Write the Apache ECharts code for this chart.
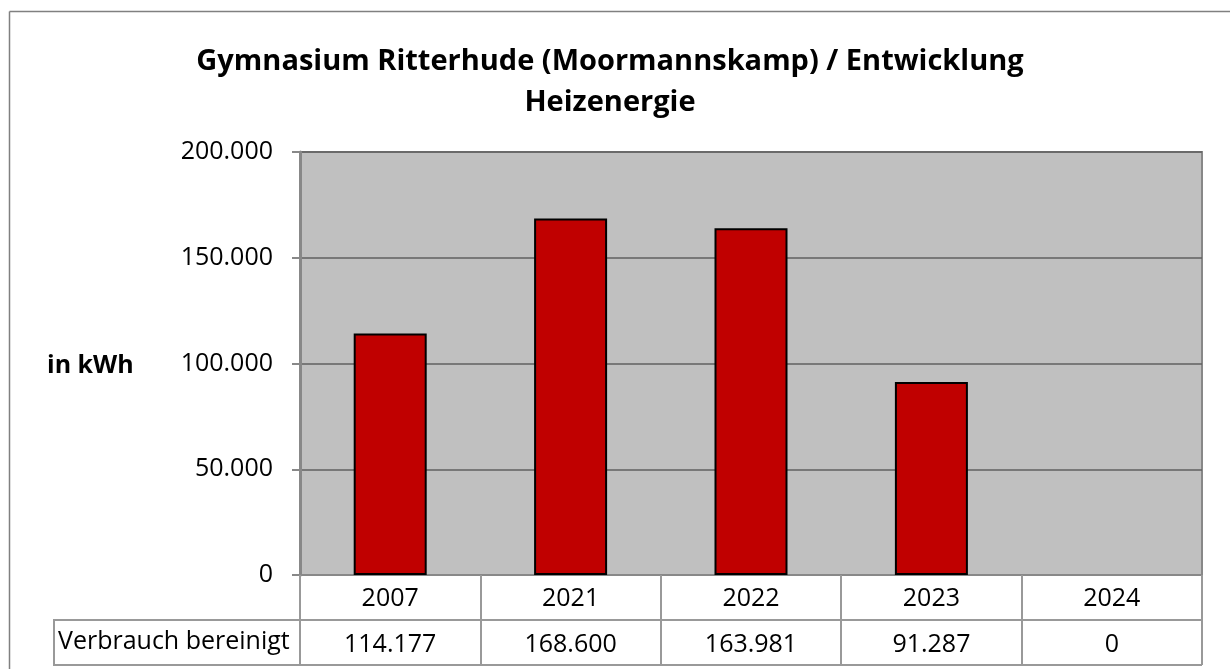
<!DOCTYPE html>
<html>
<head>
<meta charset="utf-8">
<script src="https://cdn.jsdelivr.net/npm/echarts@6/dist/echarts.min.js"></script>
<style>
  html, body { margin: 0; padding: 0; background: #fff; }
  #chart { width: 1230px; height: 669px; }
</style>
</head>
<body>
<div id="chart"></div>
<script>
const years = ["2007", "2021", "2022", "2023", "2024"];
const verbrauch = [114177, 168600, 163981, 91287, 0];
const rowLabel = "Verbrauch bereinigt";
const yTicks = [0, 50000, 100000, 150000, 200000];

const FONT = "'Open Sans', 'Noto Sans', sans-serif";
const FS = 25;

// 114177 -> "114.177"
const fmt = (v) => String(v).replace(/\B(?=(\d{3})+(?!\d))/g, ".");

let chartDom = document.getElementById("chart");
let myChart = echarts.init(chartDom);
let option;

// Excel draws nothing for a zero bar, so drop the border there
const barData = verbrauch.map((v) => (v === 0 ? { value: v, itemStyle: { borderWidth: 0 } } : v));

option = {
  animation: false,
  title: {
    text: "Gymnasium Ritterhude (Moormannskamp) / Entwicklung\nHeizenergie",
    left: 605,
    textAlign: "center",
    top: 36,
    textStyle: {
      fontFamily: FONT,
      fontSize: 29,
      fontWeight: "bold",
      color: "#000",
      lineHeight: 41,
    },
  },
  grid: {
    left: 300,
    top: 152,
    right: 28,
    bottom: 94,
    show: true,
    backgroundColor: "#c0c0c0",
    borderColor: "#888",
    borderWidth: 2,
  },
  xAxis: [
    {
      type: "category",
      data: years,
      position: "bottom",
      axisLine: { show: true, lineStyle: { color: "#888", width: 2 } },
      axisTick: { show: true, length: 45, interval: 0, lineStyle: { color: "#999", width: 2 } },
      axisLabel: { fontFamily: FONT, fontSize: FS, color: "#000", margin: 11, interval: 0 },
      splitLine: { show: false },
    },
    {
      type: "category",
      data: years,
      position: "bottom",
      offset: 45,
      axisLine: { show: true, lineStyle: { color: "#999", width: 2 } },
      axisTick: { show: true, length: 45, interval: 0, lineStyle: { color: "#999", width: 2 } },
      axisLabel: {
        fontFamily: FONT,
        fontSize: FS,
        color: "#000",
        margin: 12,
        interval: 0,
        formatter: (v, i) => fmt(verbrauch[i]),
      },
    },
  ],
  yAxis: {
    type: "value",
    min: yTicks[0],
    max: yTicks[yTicks.length - 1],
    interval: 50000,
    axisLine: { show: true, lineStyle: { color: "#888", width: 3 } },
    axisTick: { show: true, length: 8, lineStyle: { color: "#888", width: 2 } },
    axisLabel: {
      fontFamily: FONT,
      fontSize: FS,
      color: "#000",
      margin: 27,
      formatter: (v) => fmt(v),
    },
    splitLine: { show: true, lineStyle: { color: "#606060", width: 1.5 } },
  },
  graphic: {
    elements: [
      // outer chart border
      { type: "line", shape: { x1: 9.5, y1: 11.5, x2: 1230, y2: 11.5 }, style: { stroke: "#808080", lineWidth: 1.5 } },
      { type: "line", shape: { x1: 9.5, y1: 11.5, x2: 9.5, y2: 669 }, style: { stroke: "#808080", lineWidth: 1.5 } },
      // data table: label cell and bottom line
      { type: "rect", shape: { x: 54, y: 620, width: 246, height: 45 }, style: { fill: "none", stroke: "#999", lineWidth: 2 } },
      { type: "line", shape: { x1: 300, y1: 665, x2: 1202, y2: 665 }, style: { stroke: "#999", lineWidth: 2 } },
      {
        type: "text", left: 58, top: 629,
        style: { text: rowLabel, fontFamily: FONT, fontSize: FS, fill: "#000" },
      },
      {
        type: "text", left: 47, top: 353,
        style: { text: "in kWh", fontFamily: FONT, fontSize: FS, fontWeight: "bold", fill: "#000" },
      },
    ],
  },
  series: [
    {
      name: rowLabel,
      type: "bar",
      data: barData,
      barWidth: 73,
      itemStyle: { color: "#c00000", borderColor: "#000", borderWidth: 2 },
    },
  ],
};

option && myChart.setOption(option);
</script>
</body>
</html>
